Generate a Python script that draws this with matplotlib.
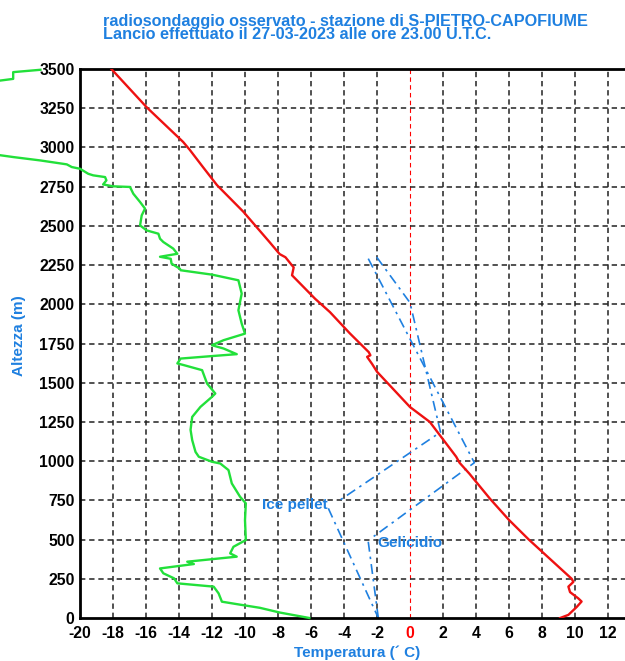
import matplotlib
matplotlib.use("Agg")
import matplotlib.pyplot as plt

plt.rcParams["axes.unicode_minus"] = False

# temperatura (red) - altezza m / gradi C
temp_h = [0, 20, 40, 70, 105, 125, 165, 200, 230, 250, 500, 625, 760, 920, 990, 1028,
          1250, 1345, 1570, 1620, 1665, 1675, 1695, 1815, 1950, 2035, 2110, 2185,
          2235, 2300, 2320, 2395, 2590, 2760, 2875, 2985, 3035, 3255, 3500]
temp_t = [9.1, 9.6, 9.8, 10.1, 10.4, 10.2, 9.7, 9.6, 9.9, 9.8, 7.2, 6.0, 4.85, 3.6, 3.0, 2.8,
          1.2, 0.0, -2.0, -2.3, -2.6, -2.4, -2.5, -3.65, -4.85, -5.75, -6.45, -7.15,
          -7.05, -7.55, -7.9, -8.5, -10.1, -11.7, -12.55, -13.35, -13.75, -15.95, -18.1]

# temperatura di rugiada (green)
dew_h = [0, 35, 65, 85, 104, 157, 200, 221, 253, 285, 316, 344, 359, 391, 412, 454, 497,
         624, 731, 773, 858, 943, 985, 996, 1028, 1059, 1134, 1200, 1282, 1346, 1410, 1431,
         1495, 1580, 1612, 1623, 1654, 1669, 1682, 1718, 1739, 1771, 1813, 1877, 1962, 2068,
         2153, 2189, 2217, 2227, 2259, 2290, 2303, 2322, 2355, 2397, 2418, 2450, 2471, 2503,
         2567, 2610, 2652, 2705, 2748, 2752, 2764, 2790, 2811, 2822, 2832, 2864, 2875, 2892,
         2917, 2938, 2960, 3150, 3350, 3420, 3437, 3480, 3495]
dew_t = [-6.1, -7.9, -9.1, -10.3, -11.4, -11.6, -11.9, -14.1, -14.3, -14.95, -15.15, -13.1,
         -13.5, -10.5, -10.9, -10.7, -9.95, -10.0, -9.95, -10.3, -10.8, -11.0, -11.5, -12.0,
         -12.8, -13.0, -13.2, -13.3, -13.2, -12.7, -12.0, -11.8, -12.3, -12.6, -13.7, -14.1,
         -13.9, -12.1, -10.5, -11.3, -12.0, -11.3, -10.0, -10.2, -10.4, -10.2, -10.4, -12.0,
         -13.9, -13.95, -14.45, -14.5, -15.15, -14.1, -14.35, -14.95, -15.15, -15.25, -15.96,
         -16.36, -16.26, -16.06, -16.36, -16.77, -16.97, -17.98, -18.6, -18.4, -18.48, -19.2,
         -19.5, -20.0, -20.5, -20.8, -22.4, -24.0, -25.5, -27.0, -26.5, -25.3, -24.05, -24.05,
         -22.4]

# linee di riferimento precipitazione
ice_upper_t = [-2.02, 0.0, 1.85, -4.24]
ice_upper_h = [2301, 2010, 1185, 752]
ice_lower_t = [-4.95, -1.92]
ice_lower_h = [699, 0]
gel_upper_t = [-2.53, 3.9, -2.2]
gel_upper_h = [2291, 990, 520]
gel_lower_t = [-2.53, -1.92]
gel_lower_h = [486, 0]

x_ticks = list(range(-20, 13, 2))
y_ticks = list(range(0, 3501, 250))

BLUE = "#1f80e0"
FONT = "Liberation Sans"

fig = plt.figure(figsize=(6.25, 6.61), dpi=100)
ax = fig.add_axes([80 / 625, 43 / 661, 561 / 625, 549 / 661])
ax.set_xlim(-20, 14)
ax.set_ylim(0, 3500)

for t in x_ticks:
    if t == 0:
        ax.axvline(t, color="red", lw=0.8, ls=(0, (4, 3)), zorder=1)
    elif t > -20:
        ax.axvline(t, color="#222222", lw=1.1, ls=(0, (3.5, 2.5)), zorder=1)
for h in y_ticks[1:-1]:
    ax.axhline(h, color="#222222", lw=1.1, ls=(0, (3.5, 2.5)), zorder=1)

ax.plot(temp_t, temp_h, color="#ee1111", lw=1.7, zorder=3)
ax.plot(dew_t, dew_h, color="#22e03a", lw=1.7, zorder=3, clip_on=False)

dd = (0, (6, 3, 1.5, 3))
for xs, ys in [(ice_upper_t, ice_upper_h), (ice_lower_t, ice_lower_h),
               (gel_upper_t, gel_upper_h), (gel_lower_t, gel_lower_h)]:
    ax.plot(xs, ys, color=BLUE, lw=1.2, ls=dd, zorder=2)

ax.text(-5.0, 720, "Ice pellet", color=BLUE, fontsize=11, fontweight="bold",
        fontfamily=FONT, ha="right", va="center")
ax.text(-2.0, 478, "Gelicidio", color=BLUE, fontsize=11, fontweight="bold",
        fontfamily=FONT, ha="left", va="center")

ax.set_xticks(x_ticks)
ax.set_yticks(y_ticks)
ax.tick_params(axis="y", length=0, pad=4)
ax.tick_params(axis="x", length=0, pad=6)
for lab in ax.get_xticklabels() + ax.get_yticklabels():
    lab.set_fontfamily(FONT)
    lab.set_fontweight("bold")
    lab.set_fontsize(11.3)
for lab in ax.get_xticklabels():
    if lab.get_text() in ("0", "\u22120"):
        lab.set_color("red")

for side in ["left", "bottom", "top"]:
    ax.spines[side].set_linewidth(2)
ax.spines["right"].set_visible(False)

ax.set_xlabel("Temperatura (\u00b4 C)", color=BLUE, fontsize=11, fontweight="bold",
              fontfamily=FONT)
ax.xaxis.set_label_coords((357 - 80) / 561, -0.05)
ax.set_ylabel("Altezza (m)", color=BLUE, fontsize=11, fontweight="bold",
              fontfamily=FONT)
ax.yaxis.set_label_coords(-0.096, 0.515)

fig.text(103 / 625, 1 - 28 / 661,
         "radiosondaggio osservato - stazione di S-PIETRO-CAPOFIUME\n"
         "Lancio effettuato il 27-03-2023 alle ore 23.00 U.T.C.",
         color=BLUE, fontsize=11.7, fontweight="bold", fontfamily=FONT,
         ha="left", va="center", linespacing=0.85)

fig.savefig("out.png", dpi=100)
